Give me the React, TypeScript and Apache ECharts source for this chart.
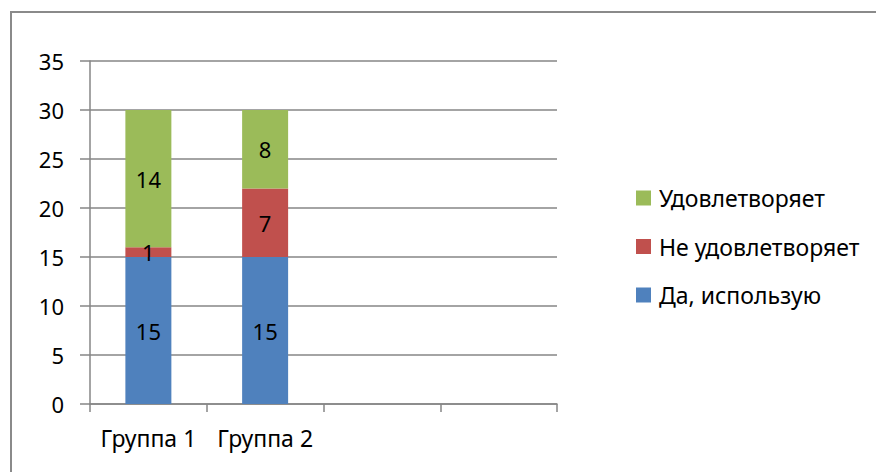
import React, { useEffect, useRef } from "react";
import * as echarts from "echarts";

const categories = ["Группа 1", "Группа 2", "", ""];
const seriesNames = ["Да, использую", "Не удовлетворяет", "Удовлетворяет"];
const usingValues = [15, 15];
const notSatisfiedValues = [1, 7];
const satisfiedValues = [14, 8];
const yTicks = { min: 0, max: 35, interval: 5 };
const colors = ["#4F81BD", "#C0504D", "#9BBB59"];

const FONT = "Noto Sans";
const FS = 22;
const FS_TEXT = 23;

export default function App() {
  const ref = useRef<HTMLDivElement>(null);
  useEffect(() => {
    document.body.style.margin = "0";
    const chart = echarts.init(ref.current!, undefined, { renderer: "svg" });
    const valuesList = [usingValues, notSatisfiedValues, satisfiedValues];
    chart.setOption({
      animation: false,
      backgroundColor: "#ffffff",
      textStyle: { fontFamily: FONT },
      graphic: [
        {
          type: "rect",
          shape: { x: 11, y: 12, width: 880, height: 480 },
          style: { fill: "none", stroke: "#8a8a8a", lineWidth: 2 },
          silent: true,
        },
      ],
      legend: {
        orient: "vertical",
        left: 636,
        top: 186,
        padding: 0,
        itemWidth: 15,
        itemHeight: 15,
        itemGap: 24.5,
        icon: "rect",
        data: [seriesNames[2], seriesNames[1], seriesNames[0]],
        textStyle: { fontFamily: FONT, fontSize: FS_TEXT, color: "#000", lineHeight: 24, padding: [0, 0, 0, 3] },
      },
      grid: { left: 90, right: 319, top: 61, bottom: 68, containLabel: false },
      xAxis: {
        type: "category",
        data: categories,
        axisLine: { lineStyle: { color: "#868686", width: 1.5 } },
        axisTick: { show: true, length: 8, alignWithLabel: false, lineStyle: { color: "#868686", width: 1.5 } },
        axisLabel: { margin: 22, fontFamily: FONT, fontSize: FS_TEXT, color: "#000", interval: 0 },
        splitLine: { show: false },
      },
      yAxis: {
        type: "value",
        min: yTicks.min,
        max: yTicks.max,
        interval: yTicks.interval,
        axisLine: { show: true, lineStyle: { color: "#868686", width: 1.5 } },
        axisTick: { show: true, length: 10, lineStyle: { color: "#868686", width: 1.5 } },
        axisLabel: { margin: 26, fontFamily: FONT, fontSize: FS, color: "#000" },
        splitLine: { show: true, lineStyle: { color: "#868686", width: 1.5 } },
      },
      series: seriesNames.map((name, i) => ({
        name,
        type: "bar",
        stack: "total",
        barWidth: "39.4%",
        data: valuesList[i],
        itemStyle: { color: colors[i] },
        label: {
          show: true,
          position: "inside",
          color: "#000",
          fontFamily: FONT,
          fontSize: FS,
        },
      })),
    });
    return () => chart.dispose();
  }, []);
  return <div ref={ref} style={{ width: 876, height: 472 }} />;
}
